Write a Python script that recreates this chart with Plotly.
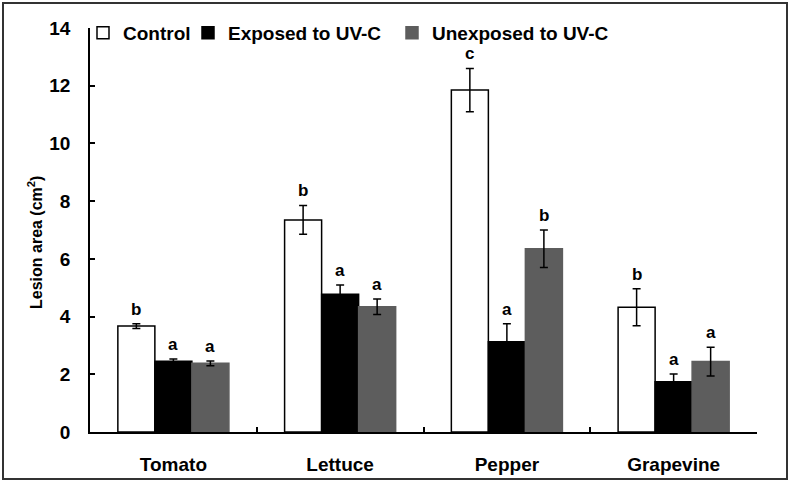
import plotly.graph_objects as go

categories = ["Tomato", "Lettuce", "Pepper", "Grapevine"]
series_names = ["Control", "Exposed to UV-C", "Unexposed to UV-C"]
control = [3.67, 7.35, 11.85, 4.32]
control_err = [0.08, 0.5, 0.75, 0.64]
exposed = [2.45, 4.77, 3.13, 1.74]
exposed_err = [0.08, 0.32, 0.62, 0.27]
unexposed = [2.38, 4.34, 6.35, 2.44]
unexposed_err = [0.08, 0.27, 0.65, 0.5]
letters_control = ["b", "b", "c", "b"]
letters_exposed = ["a", "a", "a", "a"]
letters_unexposed = ["a", "a", "b", "a"]
y_ticks = [0, 2, 4, 6, 8, 10, 12, 14]
y_title = "Lesion area (cm<sup>2</sup>)"

FONT = "Arial, Liberation Sans, sans-serif"
W, H = 791, 483
ML, MR, MT, MB = 90, 34, 28, 51
BARGAP = 0.334

fills = ["white", "black", "#5d5d5d"]
lines = ["black", "black", "#5d5d5d"]
legend_widths = [60, 159, None]
values = [control, exposed, unexposed]
errs = [control_err, exposed_err, unexposed_err]
letters = [letters_control, letters_exposed, letters_unexposed]

fig = go.Figure()
for i in range(3):
    fig.add_trace(go.Bar(
        name=series_names[i], x=categories, y=values[i],
        marker=dict(color=fills[i], line=dict(color=lines[i], width=1.5)),
        error_y=dict(type="data", array=errs[i], color="black", thickness=1.5, width=4),
        legendwidth=legend_widths[i],
    ))

plot_w = W - ML - MR
plot_h = H - MT - MB
cat_w = plot_w / len(categories)
bar_w = cat_w * (1 - BARGAP) / 3
for i in range(3):
    for j, c in enumerate(categories):
        fig.add_annotation(
            x=c, y=values[i][j] + errs[i][j], xref="x", yref="y",
            text=letters[i][j], showarrow=False,
            xshift=(i - 1) * bar_w, yanchor="bottom", yshift=3,
            font=dict(family=FONT, size=17, color="black", weight="bold"),
        )

def px_x(p):
    return (p - ML) / plot_w
def px_y(p):
    return (H - MB - p) / plot_h

# y-axis title (placed as rotated annotation to match the reference's offset)
fig.add_annotation(x=px_x(35), y=px_y(243), xref="paper", yref="paper",
                   text=y_title, textangle=-90, showarrow=False,
                   xanchor="center", yanchor="middle",
                   font=dict(family=FONT, size=16, color="black", weight="bold"))

fig.add_shape(type="rect", xref="paper", yref="paper",
              x0=px_x(3), x1=px_x(787), y0=px_y(479), y1=px_y(3),
              line=dict(color="#333333", width=2), fillcolor="rgba(0,0,0,0)", layer="below")

fig.update_layout(
    width=W, height=H,
    margin=dict(l=ML, r=MR, t=MT, b=MB, pad=0, autoexpand=False),
    paper_bgcolor="white", plot_bgcolor="white",
    barmode="group", bargap=BARGAP, bargroupgap=0,
    font=dict(family=FONT, size=19, color="black", weight="bold"),
    showlegend=True,
    legend=dict(orientation="h", x=-0.0105, xanchor="left", y=1.035, yanchor="top",
                font=dict(family=FONT, size=19, color="black", weight="bold"),
                bgcolor="rgba(0,0,0,0)", traceorder="normal", itemwidth=30),
    xaxis=dict(type="category", showline=True, linecolor="black", linewidth=1.5,
               ticks="inside", ticklen=5, tickcolor="black", tickwidth=1.5,
               tickson="boundaries", showgrid=False, zeroline=False, automargin=False,
               tickfont=dict(family=FONT, size=19, weight="bold"),
               ticklabelstandoff=14),
    yaxis=dict(range=[0, 14], tickvals=y_ticks, showline=True, linecolor="black", linewidth=1.5,
               ticks="inside", ticklen=5, tickcolor="black", tickwidth=1.5,
               showgrid=False, zeroline=False, automargin=False,
               tickfont=dict(family=FONT, size=19, weight="bold"),
               ticklabelstandoff=14),
)

fig.write_html("out.html", config={"displayModeBar": False},
               post_script="document.body.style.margin='0';document.body.style.overflow='hidden';")
